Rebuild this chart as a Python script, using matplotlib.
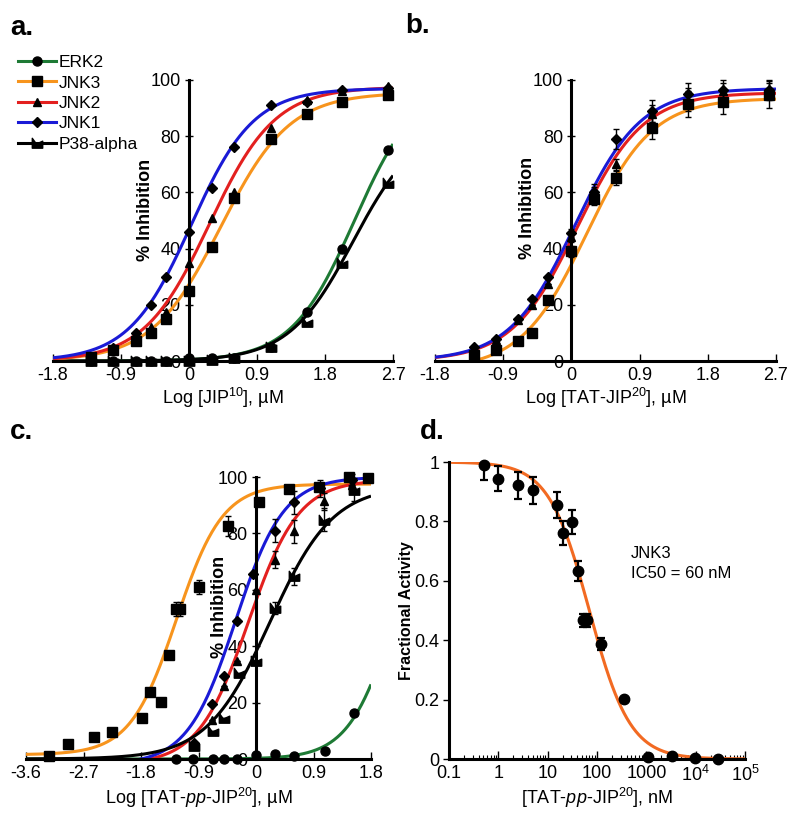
import numpy as np
import matplotlib
matplotlib.use("Agg")
import matplotlib.pyplot as plt
from matplotlib.path import Path
from matplotlib.lines import Line2D
from matplotlib.ticker import LogLocator, NullFormatter, FixedLocator

plt.rcParams['font.family'] = ['Liberation Sans', 'DejaVu Sans']
plt.rcParams['axes.unicode_minus'] = False
plt.rcParams['mathtext.fontset'] = 'custom'
plt.rcParams['mathtext.rm'] = 'Liberation Sans'
plt.rcParams['mathtext.it'] = 'Liberation Sans:italic'
plt.rcParams['mathtext.bf'] = 'Liberation Sans:bold'

# ---------------- data ----------------
series_names = ['ERK2', 'JNK3', 'JNK2', 'JNK1', 'P38-alpha']
series_colors = ['#1e7a35', '#f7941d', '#e3201f', '#1a1ad6', '#000000']

# panel a  (log concentration, % inhibition)
a_x = [-1.3, -1.0, -0.7, -0.5, -0.3, 0.0, 0.3, 0.6, 1.08, 1.56, 2.02, 2.63]
a_erk2 = [0, 0, 0, 0, 0, 1, 1, 1, 5, 17.5, 40, 75]
a_jnk3 = [1.5, 4, 7, 10, 15, 25, 40.5, 58, 79, 88, 92, 94.5]
a_jnk2 = [1, 4, 8, 12, 17.5, 35, 51, 60, 83, 93, 96, 98]
a_jnk1 = [1.5, 4.5, 10, 20, 30, 46, 61.5, 76, 91, 92, 96.5, 97]
a_p38 = [0, 0, 0, 0, 0, 0, 0.5, 1, 5, 14, 35, 63.5]
# fitted curves: bottom, top, logIC50, hill
a_fit_erk2 = (0, 100, 2.19, 1.04)
a_fit_jnk3 = (0, 95.5, 0.42, 0.95)
a_fit_jnk2 = (0, 97.5, 0.27, 1.0)
a_fit_jnk1 = (0, 97, 0.03, 1.05)
a_fit_p38 = (0, 85, 2.17, 1.02)

# panel b
b_x = [-1.29, -0.99, -0.70, -0.52, -0.31, 0.0, 0.30, 0.59, 1.07, 1.54, 2.0, 2.61]
b_jnk3 = [2, 4, 7, 10, 21.7, 39, 57.6, 65, 83, 91.5, 92, 94.5]
b_jnk3_err = [0, 0, 0, 0, 0, 2, 2, 2.5, 4, 4.5, 4, 4.5]
b_jnk2 = [4.5, 7.5, 14.5, 20, 27.5, 44, 60, 70, 88, 93, 96, 96.5]
b_jnk2_err = [0, 0, 0, 0, 0, 1.5, 2, 2, 3, 4, 3, 3]
b_jnk1 = [5, 8, 15, 22, 30, 45.5, 60, 79, 89, 95, 96.5, 96.5]
b_jnk1_err = [0, 0, 0, 0, 0, 1.5, 3, 3.5, 4, 4, 3.5, 3.5]
b_fit_jnk3 = (-3, 93.5, 0.2, 1.0)
b_fit_jnk2 = (0, 95.5, 0.08, 1.0)
b_fit_jnk1 = (0, 97, 0.05, 1.0)

# panel c
c_jnk3_x = [-3.24, -2.95, -2.54, -2.25, -1.78, -1.66, -1.49, -1.36, -1.245, -1.19,
            -0.895, -0.434, 0.052, 0.52, 0.99, 1.45, 1.75]
c_jnk3 = [1.2, 5.4, 7.8, 9.5, 14.5, 23.6, 20.1, 36.9, 53.2, 53.2,
          60.9, 82.5, 91, 95.7, 96.5, 99.9, 99.6]
c_jnk3_err = [0, 0, 0, 0, 0, 0, 0, 0, 2.5, 2.5, 2.5, 3.5, 0, 0, 0, 0, 0]
c_jnk1_x = [-0.97, -0.69, -0.50, -0.29, -0.04, 0.3, 0.6, 1.0, 1.5]
c_jnk1 = [5.7, 19.6, 29.3, 49, 65.7, 81, 91, 96, 99]
c_jnk1_err = [0, 0, 0, 0, 0, 4, 4, 3, 2]
c_jnk2_x = [-0.97, -0.69, -0.50, -0.29, 0.0, 0.3, 0.6, 1.06, 1.5]
c_jnk2 = [5, 14, 25.8, 34.9, 60, 70.7, 80.7, 91.4, 97]
c_jnk2_err = [0, 0, 0, 0, 0, 3, 4, 3, 2]
c_p38_x = [-0.97, -0.67, -0.50, -0.27, 0.0, 0.3, 0.6, 1.06, 1.53]
c_p38 = [4.5, 9.8, 14.5, 30.5, 34.6, 53.5, 64.8, 84.9, 95.5]
c_p38_err = [0, 0, 0, 0, 0, 2, 3, 4, 4]
c_erk2_x = [-1.26, -0.98, -0.67, -0.50, -0.29, 0.0, 0.3, 0.59, 1.08, 1.54]
c_erk2 = [0, 0, 0, 0, 0, 1.5, 1.9, 1, 3, 16.3]
c_fit_jnk3 = (1.5, 97.5, -1.245, 1.2)
c_fit_jnk1 = (-2, 100, -0.32, 1.15)
c_fit_jnk2 = (-2, 99, -0.12, 1.1)
c_fit_p38 = (0, 97, 0.217, 0.88)
c_fit_erk2 = (0, 100, 2.17, 1.2)

# panel d  (nM, fractional activity)
d_conc = [0.51, 1.0, 2.54, 5.1, 15.2, 20, 30.6, 40.6, 51, 61.7, 120, 357, 1070, 3250, 9700, 29000]
d_act = [0.989, 0.944, 0.921, 0.905, 0.855, 0.761, 0.797, 0.632, 0.467, 0.467, 0.387, 0.203,
         0.007, 0.011, 0.003, 0.001]
d_err = [0.05, 0.042, 0.044, 0.046, 0.043, 0.039, 0.041, 0.034, 0.022, 0.022, 0.02, 0, 0, 0, 0, 0]
d_fit = (0.0, 1.0, 70.0, 1.05)   # bottom, top, IC50 (nM), hill

log_ticks_ab = [-1.8, -0.9, 0, 0.9, 1.8, 2.7]
log_ticks_c = [-3.6, -2.7, -1.8, -0.9, 0, 0.9, 1.8]
pct_ticks = [0, 20, 40, 60, 80, 100]
d_yticks = [0, 0.2, 0.4, 0.6, 0.8, 1]
d_xticks = [0.1, 1, 10, 100, 1000, 1e4, 1e5]
d_xticklabels = ['0.1', '1', '10', '100', '1000', '10$^4$', '10$^5$']


def sig(x, p):
    b, t, x0, h = p
    return b + (t - b) / (1.0 + 10 ** ((x0 - x) * h))


p38_marker = Path([(-1, 1), (-0.2, -0.1), (1, 0.45), (1, -0.9), (-1, -0.9), (-1, 1)],
                  [Path.MOVETO] + [Path.LINETO] * 4 + [Path.CLOSEPOLY])
mk = {'ERK2': ('o', 6.5), 'JNK3': ('s', 7), 'JNK2': ('^', 6), 'JNK1': ('D', 4.8),
      'P38-alpha': (p38_marker, 7.5)}
col = dict(zip(series_names, series_colors))

W, H = 800, 816
fig = plt.figure(figsize=(8, 8.16), dpi=100)


def px_axes(x0, x1, ytop, ybot):
    return fig.add_axes([x0 / W, 1 - ybot / H, (x1 - x0) / W, (ybot - ytop) / H])


TICK_FS = 13
LW_SPINE = 2.2
LW_CURVE = 2.2


def style_log_axes(ax, xlim, xticks):
    ax.set_xlim(*xlim)
    ax.set_ylim(0, 100)
    for s in ['top', 'right']:
        ax.spines[s].set_visible(False)
    ax.spines['left'].set_position(('data', 0))
    ax.spines['left'].set_linewidth(LW_SPINE)
    ax.spines['bottom'].set_linewidth(LW_SPINE)
    ax.set_xticks(xticks)
    ax.set_xticklabels([('%g' % t) for t in xticks])
    ax.set_yticks(pct_ticks)
    ax.tick_params(axis='x', direction='in', length=5, width=1, labelsize=TICK_FS, pad=4)
    ax.tick_params(axis='y', direction='inout', length=6, width=1, labelsize=TICK_FS, pad=3)
    ax.set_zorder(1)


def set_labels(ax, xlabel, ylabel, xy_x, xy_y, yfs=13):
    ax.set_xlabel(xlabel, fontsize=13)
    ax.xaxis.set_label_coords(*xy_x)
    ax.xaxis.label.set_va('center')
    ax.set_ylabel(ylabel, fontsize=yfs, fontweight='bold')
    ax.yaxis.set_label_coords(*xy_y)
    ax.yaxis.label.set_va('center')
    ax.yaxis.label.set_ha('center')


def plot_series(ax, x, y, p, name, err=None, xlim=None):
    xs = np.linspace(xlim[0], xlim[1], 400)
    ax.plot(xs, sig(xs, p), color=col[name], lw=LW_CURVE, zorder=2, solid_capstyle='butt')
    m, ms = mk[name]
    if err is not None:
        ax.errorbar(x, y, yerr=err, fmt='none', ecolor='black', elinewidth=1, capsize=2.5,
                    capthick=1, zorder=3, clip_on=False)
    ax.plot(x, y, linestyle='none', marker=m, markersize=ms, color='black', zorder=4, clip_on=False)


# ---------------- panel a ----------------
axa = px_axes(53, 393, 80, 361)
xl = (-1.8, 2.7)
style_log_axes(axa, xl, log_ticks_ab)
plot_series(axa, a_x, a_erk2, a_fit_erk2, 'ERK2', xlim=xl)
plot_series(axa, a_x, a_p38, a_fit_p38, 'P38-alpha', xlim=xl)
plot_series(axa, a_x, a_jnk3, a_fit_jnk3, 'JNK3', xlim=xl)
plot_series(axa, a_x, a_jnk2, a_fit_jnk2, 'JNK2', xlim=xl)
plot_series(axa, a_x, a_jnk1, a_fit_jnk1, 'JNK1', xlim=xl)
set_labels(axa, 'Log [JIP$^{10}$], µM', '% Inhibition',
           (0.5, (361 - 398) / 281), ((145 - 53) / 340, 0.537))

handles = [Line2D([0], [0], color=col[n], lw=LW_CURVE, marker=mk[n][0], markersize=mk[n][1],
                  markerfacecolor='black', markeredgecolor='black') for n in series_names]
fig.legend(handles, series_names, loc='upper left', bbox_to_anchor=(18 / W, 1 - 55 / H),
           frameon=False, fontsize=12.5, handlelength=2.2, handletextpad=0.15,
           labelspacing=0.3, borderpad=0, borderaxespad=0)

# ---------------- panel b ----------------
axb = px_axes(435, 776, 80, 361)
style_log_axes(axb, xl, log_ticks_ab)
plot_series(axb, b_x, b_jnk3, b_fit_jnk3, 'JNK3', err=b_jnk3_err, xlim=xl)
plot_series(axb, b_x, b_jnk2, b_fit_jnk2, 'JNK2', err=b_jnk2_err, xlim=xl)
plot_series(axb, b_x, b_jnk1, b_fit_jnk1, 'JNK1', err=b_jnk1_err, xlim=xl)
set_labels(axb, 'Log [TAT-JIP$^{20}$], µM', '% Inhibition',
           (0.5, (361 - 398) / 281), ((528 - 435) / 341, 0.544))

# ---------------- panel c ----------------
axc = px_axes(26, 371, 477, 759)
xlc = (-3.6, 1.8)
style_log_axes(axc, xlc, log_ticks_c)
plot_series(axc, c_erk2_x, c_erk2, c_fit_erk2, 'ERK2', xlim=xlc)
plot_series(axc, c_jnk3_x, c_jnk3, c_fit_jnk3, 'JNK3', err=c_jnk3_err, xlim=xlc)
plot_series(axc, c_jnk2_x, c_jnk2, c_fit_jnk2, 'JNK2', err=c_jnk2_err, xlim=xlc)
plot_series(axc, c_jnk1_x, c_jnk1, c_fit_jnk1, 'JNK1', err=c_jnk1_err, xlim=xlc)
plot_series(axc, c_p38_x, c_p38, c_fit_p38, 'P38-alpha', err=c_p38_err, xlim=xlc)
set_labels(axc, 'Log [TAT-$\\it{pp}$-JIP$^{20}$], µM', '% Inhibition',
           (0.5, (759 - 798) / 282), ((220 - 26) / 345, 0.54))

# ---------------- panel d ----------------
axd = px_axes(449, 745, 462, 759)
axd.set_xscale('log')
axd.set_xlim(0.1, 1e5)
axd.set_ylim(0, 1)
for s in ['top', 'right']:
    axd.spines[s].set_visible(False)
axd.spines['left'].set_linewidth(LW_SPINE)
axd.spines['bottom'].set_linewidth(LW_SPINE)
xs = np.logspace(-1, 5, 500)
b0, t0, ic50, hh = d_fit
axd.plot(xs, b0 + (t0 - b0) / (1 + (xs / ic50) ** hh), color='#f26a22', lw=LW_CURVE, zorder=2)
axd.errorbar(d_conc, d_act, yerr=d_err, fmt='none', ecolor='black', elinewidth=1.6,
             capsize=3, capthick=1.6, zorder=3)
axd.plot(d_conc, d_act, linestyle='none', marker='o', markersize=7.5, color='black',
         zorder=4, clip_on=False)
axd.xaxis.set_major_locator(FixedLocator(d_xticks))
axd.set_xticklabels(d_xticklabels)
axd.xaxis.set_minor_locator(LogLocator(base=10, subs=np.arange(2, 10), numticks=20))
axd.xaxis.set_minor_formatter(NullFormatter())
axd.set_yticks(d_yticks)
axd.set_yticklabels(['0', '0.2', '0.4', '0.6', '0.8', '1'])
axd.tick_params(axis='x', which='major', direction='in', length=6, width=1, labelsize=TICK_FS, pad=4)
axd.tick_params(axis='x', which='minor', direction='in', length=3, width=0.8)
axd.tick_params(axis='y', direction='out', length=4, width=1, labelsize=TICK_FS, pad=3)
set_labels(axd, '[TAT-$\\it{pp}$-JIP$^{20}$], nM', 'Fractional Activity',
           (0.5, (759 - 798) / 297), ((407 - 449) / 296, 0.5), yfs=11.5)
fig.text(631 / W, 1 - 553 / H, 'JNK3', fontsize=12, va='center', ha='left')
fig.text(631 / W, 1 - 573 / H, 'IC50 = 60 nM', fontsize=12, va='center', ha='left')

# panel letters
for lab, x, y in [('a.', 10, 28), ('b.', 405, 26), ('c.', 10, 432), ('d.', 420, 432)]:
    fig.text(x / W, 1 - y / H, lab, fontsize=20, fontweight='bold', va='center', ha='left')

fig.savefig('out.png', dpi=100)
